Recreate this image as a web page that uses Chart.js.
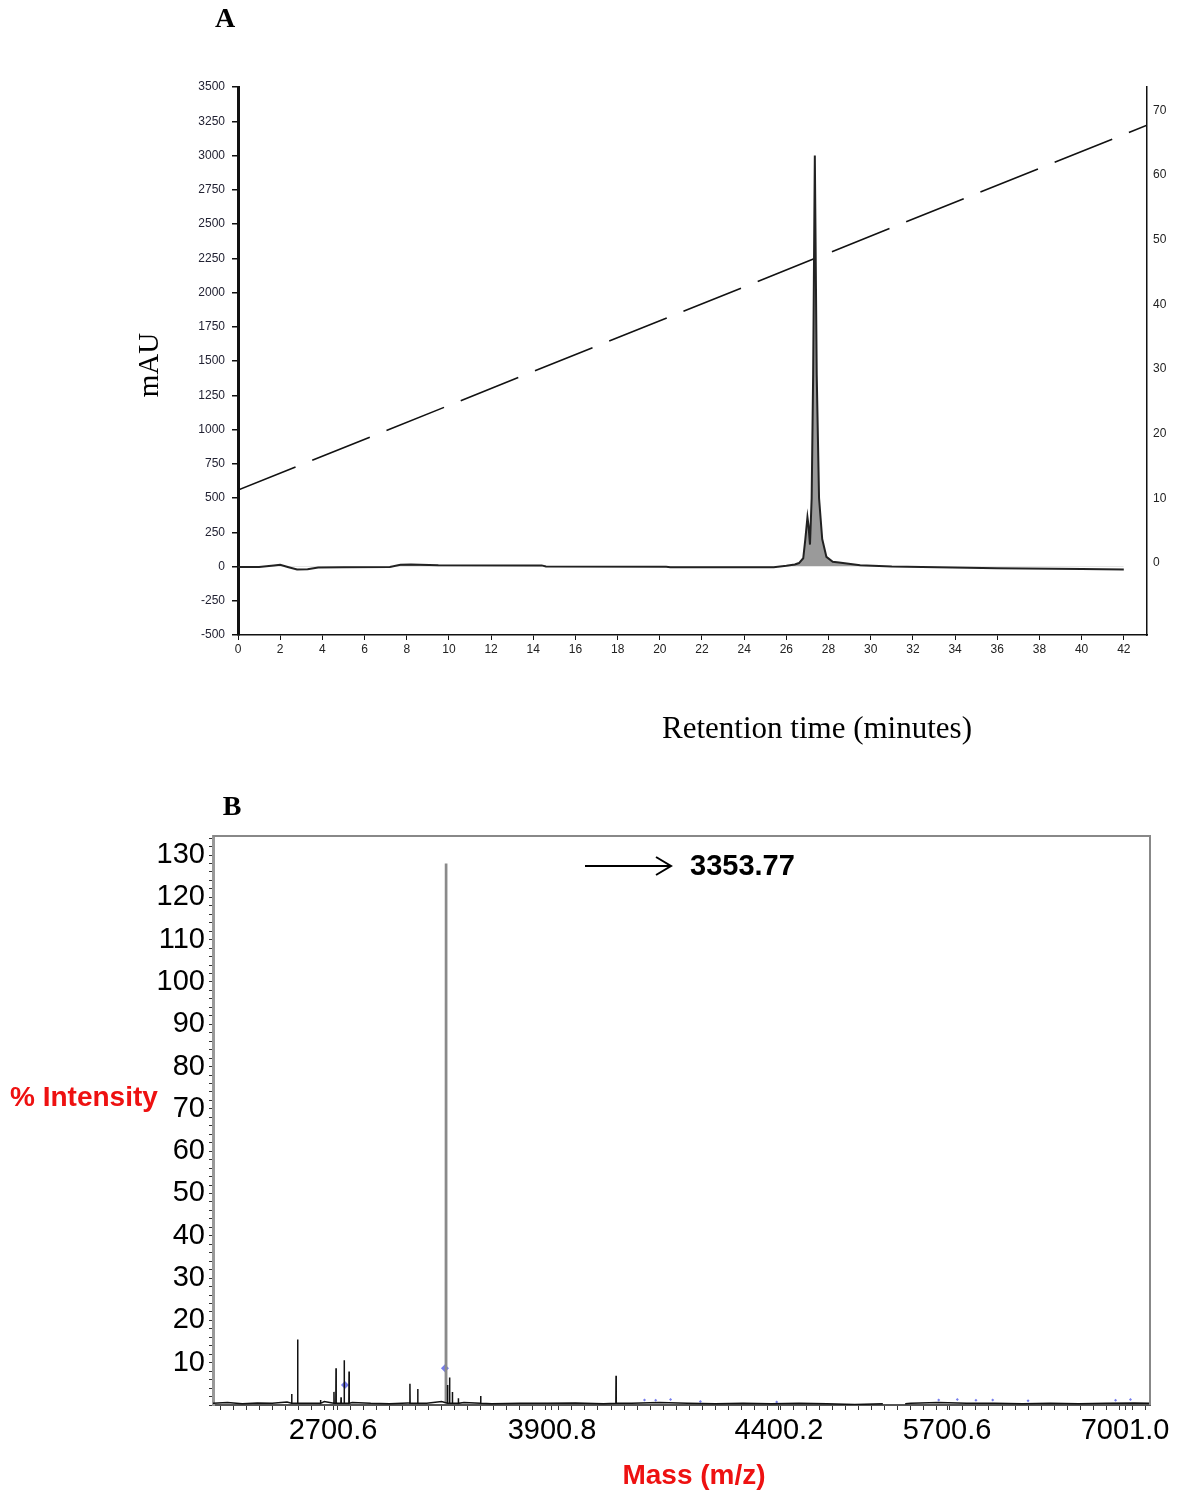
<!DOCTYPE html>
<html>
<head>
<meta charset="utf-8">
<script src="https://cdn.jsdelivr.net/npm/chart.js@4.4.1/dist/chart.umd.min.js"></script>
<style>
  html, body { margin: 0; padding: 0; background: #fff; }
  #wrap { position: relative; width: 1189px; height: 1495px; }
  .box { position: absolute; left: 0; width: 1189px; }
  #top { top: 0; height: 760px; }
  #bottom { top: 760px; height: 735px; }
</style>
</head>
<body>
<div id="wrap">
  <div class="box" id="top"><canvas id="chart_hplc"></canvas></div>
  <div class="box" id="bottom"><canvas id="chart_ms"></canvas></div>
</div>
<script>
(function () {
  // ---- panel A: HPLC trace ----
  const hplcTime = [0, 1.0, 1.7, 2.0, 2.4, 2.8, 3.3, 3.8, 5, 7.2, 7.7, 8.2, 9.5, 14.4, 14.6, 20.3, 20.5, 25.4, 26.0, 26.4,
    26.6, 26.8, 26.9, 27.0, 27.05, 27.12, 27.2, 27.27, 27.35, 27.44, 27.55, 27.7, 27.9, 28.2, 28.5, 29.5, 31, 36, 40, 42];
  const hplcMAU = [-3, -3, 8, 12, -5, -22, -20, -8, -5, -3, 12, 15, 10, 8, 0, -2, -6, -5, 5, 15,
    25, 60, 200, 360, 300, 160, 500, 1400, 3000, 1400, 500, 200, 70, 35, 30, 10, 0, -12, -18, -22];
  const gradientTime = [0, 43.1];
  const gradientPct = [11.3, 67.7];
  const timeTicks = [0, 2, 4, 6, 8, 10, 12, 14, 16, 18, 20, 22, 24, 26, 28, 30, 32, 34, 36, 38, 40, 42];
  const pctTicks = [0, 10, 20, 30, 40, 50, 60, 70];

  // ---- panel B: MALDI spectrum ----
  const mainPeakMz = 3353.77;
  const mainPeakInt = 128;
  const peakMz = [2525, 2557, 2680, 2752, 2763, 2790, 2807, 2833, 3160, 3202, 3362, 3373, 3388, 3420, 3540, 4267];
  const peakInt = [2.6, 15.5, 1.2, 3.1, 8.7, 1.8, 10.6, 7.9, 5.0, 3.8, 4.7, 6.5, 3.1, 1.6, 2.1, 6.9];
  const baseMz = [2102, 2180, 2260, 2340, 2420, 2500, 2600, 2700, 2850, 2950, 3050, 3150, 3250, 3330, 3450, 3600,
    3750, 3900, 4050, 4200, 4350, 4500, 4650, 4800, 4950, 5100, 5250, 5400, 5550, 5700, 5740, 5820, 5850,
    6000, 6150, 6300, 6450, 6600, 6750, 6900, 7050, 7134];
  const baseInt = [0.4, 0.6, 0.3, 0.5, 0.4, 0.7, 0.4, 0.8, 0.6, 0.4, 0.3, 0.5, 0.4, 0.8, 0.6, 0.3,
    0.4, 0.4, 0.5, 0.3, 0.4, 0.6, 0.4, 0.3, 0.4, 0.3, 0.4, 0.3, 0.1, 0.3, null, 0.3, 0.4,
    0.6, 0.4, 0.4, 0.3, 0.4, 0.3, 0.4, 0.5, 0.4];
  const blueMz = [2811, 3348, 4420, 4480, 4560, 4720, 5130, 6000, 6100, 6200, 6290, 6480, 6950, 7030];
  const blueInt = [4.7, 8.7, 1.2, 1.1, 1.3, 0.8, 0.7, 1.2, 1.3, 1.1, 1.2, 1.0, 1.1, 1.3];
  const massTickLabels = ['2700.6', '3900.8', '4400.2', '5700.6', '7001.0'];
  const massTickAt = [2747, 3923, 5142, 6045, 7001];

  const serif = "'Liberation Serif', 'Times New Roman', serif";
  const sans = "'Liberation Sans', Arial, sans-serif";

  let hplcChart = document.querySelector('#chart_hplc');
  let msChart = document.querySelector('#chart_ms');

  // text labels of panel A
  const hplcText = {
    id: 'hplcText',
    afterDraw(chart) {
      const ctx = chart.ctx;
      ctx.save();
      ctx.fillStyle = '#000';
      ctx.textAlign = 'center';
      ctx.textBaseline = 'middle';
      ctx.font = 'bold 28px ' + serif;
      ctx.fillText('A', 225, 20);
      ctx.font = '31px ' + serif;
      ctx.fillText('Retention time (minutes)', 817, 730);
      ctx.font = '29px ' + serif;
      ctx.translate(150, 365);
      ctx.rotate(-Math.PI / 2);
      ctx.fillText('mAU', 0, 0);
      ctx.restore();
    }
  };

  if (hplcChart) {
    new Chart(hplcChart, {
      type: 'line',
      data: {
        datasets: [{
          data: hplcTime.map((t, i) => ({ x: t, y: hplcMAU[i] })),
          borderColor: '#222',
          borderWidth: 2,
          fill: { target: 'origin', above: '#9a9a9a', below: 'rgba(0,0,0,0)' },
          pointRadius: 0,
          tension: 0,
          yAxisID: 'y'
        }, {
          data: gradientTime.map((t, i) => ({ x: t, y: gradientPct[i] })),
          borderColor: '#111',
          borderWidth: 1.6,
          borderDash: [62, 18],
          pointRadius: 0,
          fill: false,
          yAxisID: 'y2'
        }]
      },
      options: {
        responsive: true,
        maintainAspectRatio: false,
        animation: false,
        layout: { padding: { top: 87, left: 0, right: 0, bottom: 0 } },
        plugins: { legend: { display: false }, tooltip: { enabled: false } },
        scales: {
          x: {
            type: 'linear',
            min: 0,
            max: 43.1,
            afterBuildTicks: (scale) => { scale.ticks = timeTicks.map(v => ({ value: v })); },
            afterFit: (scale) => { scale.height = 125; },
            ticks: { font: { family: sans, size: 12 }, color: '#222', padding: 2, maxRotation: 0, autoSkip: false },
            grid: { drawOnChartArea: false, tickLength: 5, color: '#111' },
            border: { color: '#111', width: 1.5, dash: [2, 2] }
          },
          y: {
            position: 'left',
            min: -500,
            max: 3500,
            ticks: {
              stepSize: 250, includeBounds: false, font: { family: sans, size: 12 }, color: '#223', padding: 7,
              callback: (v) => String(v)
            },
            afterFit: (scale) => { scale.width = 238; },
            grid: { drawOnChartArea: false, tickLength: 6, color: '#111', lineWidth: 1.5 },
            border: { color: '#111', width: 3, dash: [3, 2] }
          },
          y2: {
            position: 'right',
            min: -11.1,
            max: 73.6,
            afterBuildTicks: (scale) => { scale.ticks = pctTicks.map(v => ({ value: v })); },
            ticks: { font: { family: sans, size: 12 }, color: '#222', padding: 6 },
            afterFit: (scale) => { scale.width = 42; },
            grid: { drawOnChartArea: false, drawTicks: false, color: '#111' },
            border: { color: '#111', width: 1.5 }
          }
        }
      },
      plugins: [hplcText]
    });
  }

  // frame, arrow and labels of panel B
  const msText = {
    id: 'msText',
    afterDraw(chart) {
      const ctx = chart.ctx;
      const a = chart.chartArea;
      ctx.save();
      ctx.strokeStyle = '#888';
      ctx.lineWidth = 2;
      ctx.beginPath();
      ctx.moveTo(a.left, a.top);
      ctx.lineTo(a.right, a.top);
      ctx.lineTo(a.right, a.bottom);
      ctx.stroke();

      const px = chart.scales.x.getPixelForValue(mainPeakMz);
      const ay = a.top + 30;
      ctx.strokeStyle = '#000';
      ctx.lineWidth = 2;
      ctx.beginPath();
      ctx.moveTo(px + 139, ay);
      ctx.lineTo(px + 225, ay);
      ctx.moveTo(px + 210, ay - 9);
      ctx.lineTo(px + 225, ay);
      ctx.lineTo(px + 210, ay + 9);
      ctx.stroke();
      ctx.fillStyle = '#000';
      ctx.textBaseline = 'middle';
      ctx.textAlign = 'left';
      ctx.font = 'bold 29px ' + sans;
      ctx.fillText(mainPeakMz.toFixed(2), px + 244, ay + 1);

      ctx.textAlign = 'center';
      ctx.font = 'bold 28px ' + serif;
      ctx.fillText('B', 232, 48);
      ctx.fillStyle = '#ee1111';
      ctx.font = 'bold 28px ' + sans;
      ctx.textAlign = 'left';
      ctx.fillText('% Intensity', 10, 338);
      ctx.textAlign = 'center';
      ctx.fillText('Mass (m/z)', 694, 716);
      ctx.restore();
    }
  };

  if (msChart) {
    const spectrum = baseMz.map((m, i) => ({ x: m, y: baseInt[i] }));
    peakMz.forEach((m, i) => {
      spectrum.push({ x: m - 1, y: 0.4 }, { x: m, y: peakInt[i] }, { x: m + 1, y: 0.4 });
    });
    spectrum.sort((p, q) => p.x - q.x);

    const yTicks = [];
    for (let v = 0; v <= 134; v += 2) yTicks.push({ value: v });
    const xTicks = massTickAt.map(v => ({ value: v }));
    for (let v = 2140; v < 7130; v += 70) xTicks.push({ value: v });
    xTicks.sort((p, q) => p.value - q.value);

    new Chart(msChart, {
      type: 'line',
      data: {
        datasets: [{
          data: spectrum,
          borderColor: '#111',
          borderWidth: 1.5,
          pointRadius: 0,
          tension: 0,
          spanGaps: false
        }, {
          data: [{ x: mainPeakMz - 1, y: 0.4 }, { x: mainPeakMz, y: mainPeakInt }, { x: mainPeakMz + 1, y: 0.4 }],
          borderColor: '#8a8a8a',
          borderWidth: 2.5,
          pointRadius: 0,
          tension: 0
        }, {
          type: 'scatter',
          data: blueMz.map((m, i) => ({ x: m, y: blueInt[i] })),
          backgroundColor: 'rgba(60,70,230,0.7)',
          borderWidth: 0,
          pointStyle: 'rectRot',
          pointRadius: (c) => c.dataIndex < 2 ? 4 : 1.5
        }]
      },
      options: {
        responsive: true,
        maintainAspectRatio: false,
        animation: false,
        layout: { padding: { top: 76, left: 0, right: 39, bottom: 0 } },
        plugins: { legend: { display: false }, tooltip: { enabled: false } },
        scales: {
          x: {
            type: 'linear',
            min: 2102.3,
            max: 7134.9,
            afterBuildTicks: (scale) => { scale.ticks = xTicks; },
            afterFit: (scale) => { scale.height = 90; },
            ticks: {
              font: { family: sans, size: 29 }, color: '#000', padding: 4, maxRotation: 0, autoSkip: false,
              callback: (v) => {
                const k = massTickAt.indexOf(v);
                return k >= 0 ? massTickLabels[k] : '';
              }
            },
            grid: { drawOnChartArea: false, tickLength: 5, color: '#333' },
            border: { color: '#555', width: 2 }
          },
          y: {
            min: 0,
            max: 134.5,
            afterBuildTicks: (scale) => { scale.ticks = yTicks; },
            afterFit: (scale) => { scale.width = 213; },
            ticks: {
              font: { family: sans, size: 29 }, color: '#000', padding: 4, autoSkip: false,
              callback: (v) => (v > 0 && v % 10 === 0) ? v : ''
            },
            grid: { drawOnChartArea: false, tickLength: 4, color: '#333' },
            border: { color: '#999', width: 3 }
          }
        }
      },
      plugins: [msText]
    });
  }
})();
</script>
</body>
</html>
